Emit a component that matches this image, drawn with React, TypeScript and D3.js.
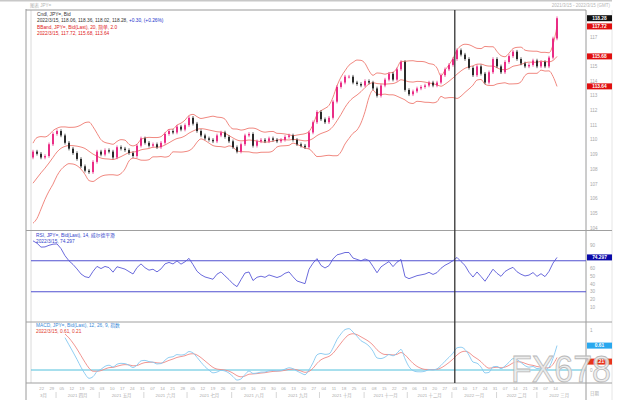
import React from 'react';
import * as d3 from 'd3';

// ---------- data ----------
const warmupCloses = [105.0, 105.5, 105.3, 105.7, 106.2, 106.6, 106.9, 107.8, 108.5, 108.8];
const closes = [
  109.2, 109.05, 108.8, 108.9, 109.7, 110.4, 110.6, 110.3, 109.8, 109.4,
  109.1, 108.7, 108.2, 107.9, 107.8, 108.5, 109.2, 109.0, 109.3, 109.2,
  108.8, 109.5, 109.4, 109.3, 109.1, 108.9, 109.6, 110.1, 109.8, 109.6,
  109.7, 109.5, 109.8, 110.4, 110.6, 110.5, 110.9, 110.7, 111.0, 111.5,
  111.1, 110.6, 110.3, 110.1, 110.0, 109.9, 110.3, 110.5, 110.2, 109.9,
  109.5, 109.2, 109.7, 110.3, 110.4, 109.6, 109.9, 110.0, 109.9, 110.1,
  110.0, 109.9, 110.0, 110.2, 110.3, 110.0, 109.7, 109.6, 109.5, 110.5,
  111.2, 111.9, 111.4, 111.2, 111.5, 112.6, 113.6, 113.9, 114.3, 114.3,
  113.9, 113.8, 113.7, 114.0, 113.9, 113.5, 113.0, 113.7, 114.1, 114.5,
  114.1, 114.8, 115.3, 113.4, 113.1, 113.3, 113.5, 113.6, 113.7, 113.9,
  113.7, 113.9, 114.4, 114.8, 115.1, 115.5, 116.1, 115.8, 115.5, 114.9,
  114.4, 115.0, 114.5, 113.9, 114.6, 115.5, 115.0, 114.6, 115.3, 115.7,
  116.0, 115.5, 115.2, 115.0, 115.1, 115.4, 115.0, 115.3, 115.0, 115.6,
  116.9, 118.28,
];
const priceTicks = [104, 105, 106, 107, 108, 109, 110, 111, 112, 113, 114, 115, 116, 117];
const rsiTicks = [10, 20, 30, 40, 50, 60, 70, 80, 90];
const rsiLevels = [70, 30];
const macdTicks = [0, 0.5, 1];
const monthStarts = ['2021-03-01', '2021-04-01', '2021-05-01', '2021-06-01', '2021-07-01', '2021-08-01', '2021-09-01',
  '2021-10-01', '2021-11-01', '2021-12-01', '2022-01-01', '2022-02-01', '2022-03-01', '2022-04-01'];
const monthLabels = ['3月', '2021 四月', '2021 五月', '2021 六月', '2021 七月', '2021 八月', '2021 九月',
  '2021 十月', '2021 十一月', '2021 十二月', '2022 一月', '2022 二月', '2022 三月'];
const lastClose = 118.28;
const bbLast = [117.72, 115.68, 113.64];
const rsiLast = 74.297;
const macdLast = [0.61, 0.21];

const FONT = "'Liberation Sans', Arial, 'Noto Sans CJK SC', sans-serif";

export default function App() {
  const L = 31, R = 586;
  const all = [...warmupCloses, ...closes];
  const off = warmupCloses.length;
  const n = closes.length;
  const x = d3.scaleLinear().domain([0, n - 1]).range([33, 557]);
  const t = d3.scaleTime().domain([new Date(2021, 2, 16), new Date(2022, 2, 15)]).range([33, 557]);
  const yP = d3.scaleLinear().domain([104, 117]).range([228, 37]);
  const yR = d3.scaleLinear().domain([0, 100]).range([315, 237.5]);
  const yM = d3.scaleLinear().domain([0, 1]).range([370, 330]);

  // Bollinger (20 days ~ 10 two-day bars)
  const bb = closes.map((_, i) => {
    const w = all.slice(off + i - 9, off + i + 1);
    const m = d3.mean(w) as number;
    const sd = Math.sqrt(d3.mean(w, (v) => (v - m) ** 2) as number);
    return { i, m, u: m + 2 * sd, l: m - 2 * sd };
  });

  // RSI (Wilder)
  const p = 11;
  const rsiAll: number[] = [];
  let ag = 0, al = 0;
  for (let k = 1; k < all.length; k++) {
    const d = all[k] - all[k - 1];
    const g = Math.max(d, 0), lo = Math.max(-d, 0);
    if (k <= p) { ag += g / p; al += lo / p; }
    else { ag = (ag * (p - 1) + g) / p; al = (al * (p - 1) + lo) / p; }
    rsiAll[k] = al === 0 ? 100 : 100 - 100 / (1 + ag / al);
  }
  const rsi = closes.map((_, i) => ({ i, v: rsiAll[off + i] }));

  // MACD
  const ema = (arr: number[], nn: number) => {
    const a = 2 / (nn + 1);
    const out: number[] = [];
    arr.forEach((v, k) => out.push(k === 0 ? v : out[k - 1] + a * (v - out[k - 1])));
    return out;
  };
  const e1 = ema(all, 6), e2 = ema(all, 13);
  const macdAll = all.map((_, k) => e1[k] - e2[k]);
  const sigAll = ema(macdAll, 4.5);
  const macd = closes.map((_, i) => ({ i, m: macdAll[off + i], s: sigAll[off + i] })).filter((d) => d.i >= 8);

  const bbLine = (key: 'm' | 'u' | 'l') => d3.line<any>().x((d) => x(d.i)).y((d) => yP(d[key])).curve(d3.curveMonotoneX)(bb) as string;
  const rsiPath = d3.line<any>().x((d) => x(d.i)).y((d) => yR(d.v))(rsi) as string;
  const macdPath = d3.line<any>().x((d) => x(d.i)).y((d) => yM(d.m)).curve(d3.curveMonotoneX)(macd) as string;
  const sigPath = d3.line<any>().x((d) => x(d.i)).y((d) => yM(d.s)).curve(d3.curveMonotoneX)(macd) as string;

  const UP = '#e8207e', DOWN = '#1c1c1c', BB = '#ee7a72';
  const weeks = d3.timeMonday.range(new Date(2021, 2, 20), new Date(2022, 2, 16));
  const fmtDay = d3.timeFormat('%d');
  const months = monthStarts.map((s) => new Date(s + 'T00:00:00'));
  const yearX = t(new Date(2022, 0, 3));

  const rightLabel = (y: number, text: string, bg: string, fg = '#fff', key?: string) => (
    <g key={key || text}>
      <rect x={587} y={y - 3} width={25} height={6} fill={bg} />
      <text x={599.5} y={y + 1.8} fontSize={4.8} fill={fg} textAnchor="middle" fontWeight="bold">{text}</text>
    </g>
  );
  const bbLabelYs = bbLast.map((v) => yP(v));

  return (
    <div style={{ position: 'absolute', left: 0, top: 0 }}>
      <svg width={640} height={400} style={{ display: 'block', fontFamily: FONT }}>
        <rect width={640} height={400} fill="#fff" />
        {/* top bar */}
        <rect x={0} y={0} width={612} height={1.5} fill="#c8c8c8" />
        <text x={30} y={6.5} fontSize={4.5} fill="#b5b5b5">图表 JPY=</text>
        <text x={610} y={6.5} fontSize={4.5} fill="#b5b5b5" textAnchor="end">2021/3/15 - 2022/3/15 (GMT)</text>

        {/* frame */}
        <line x1={26} x2={26} y1={9} y2={400} stroke="#9a9a9a" strokeWidth={1} />
        <line x1={L} x2={L} y1={10} y2={383} stroke="#d0d0d0" strokeWidth={0.8} />
        <line x1={26} x2={R} y1={10} y2={10} stroke="#9a9a9a" strokeWidth={1} />
        <line x1={R} x2={R} y1={10} y2={400} stroke="#9a9a9a" strokeWidth={1} />
        <line x1={612} x2={612} y1={10} y2={400} stroke="#e0e0e0" strokeWidth={0.8} />
        {[230.5, 322, 383].map((y) => (
          <line key={y} x1={26} x2={612} y1={y} y2={y} stroke="#a0a0a0" strokeWidth={1} />
        ))}

        {/* main panel */}
        <path d={bbLine('u')} fill="none" stroke={BB} strokeWidth={0.9} />
        <path d={bbLine('m')} fill="none" stroke={BB} strokeWidth={0.9} />
        <path d={bbLine('l')} fill="none" stroke={BB} strokeWidth={0.9} />
        {closes.map((c, i) => {
          const o = i === 0 ? warmupCloses[warmupCloses.length - 1] : closes[i - 1];
          const up = c >= o;
          const col = up ? UP : DOWN;
          const hi = Math.max(o, c) + 0.12, lo = Math.min(o, c) - 0.12;
          const top = yP(Math.max(o, c)), bot = yP(Math.min(o, c));
          return (
            <g key={i}>
              <line x1={x(i)} x2={x(i)} y1={yP(hi)} y2={yP(lo)} stroke={col} strokeWidth={0.7} />
              <rect x={x(i) - 0.9} y={top} width={1.8} height={Math.max(bot - top, 0.8)} fill={col} />
            </g>
          );
        })}
        <g fontSize={4.8}>
          <text x={37} y={15.5} fill="#333">Cndl, JPY=, Bid</text>
          <text x={37} y={22} fill="#333">2022/3/15, 118.06, 118.36, 118.02, 118.28, <tspan fill="#2233cc">+0.30, (+0.26%)</tspan></text>
          <text x={37} y={28.5} fill="#e02020">BBand, JPY=, Bid(Last), 20, 简单, 2.0</text>
          <text x={37} y={35} fill="#e02020">2022/3/15, 117.72, 115.68, 113.64</text>
        </g>
        {priceTicks.filter((v) => bbLabelYs.every((ly) => Math.abs(ly - yP(v)) > 5)).map((v) => (
          <text key={v} x={590} y={yP(v) + 1.6} fontSize={4.6} fill="#a8a8a8">{v}</text>
        ))}
        {rightLabel(yP(lastClose), lastClose.toFixed(2), '#111')}
        {bbLast.map((v, k) => rightLabel(bbLabelYs[k], v.toFixed(2), '#e01010', '#fff', 'bb' + k))}

        {/* RSI panel */}
        {rsiLevels.map((v) => (
          <line key={v} x1={L} x2={R} y1={yR(v)} y2={yR(v)} stroke="#5050d0" strokeWidth={1} />
        ))}
        <path d={rsiPath} fill="none" stroke="#5a5ad8" strokeWidth={0.9} />
        <g fontSize={4.8} fill="#3344cc">
          <text x={36} y={237}>RSI, JPY=, Bid(Last), 14, 威尔德平滑</text>
          <text x={36} y={243}>2022/3/15, 74.297</text>
        </g>
        {rsiTicks.filter((v) => Math.abs(yR(v) - yR(rsiLast)) > 5).map((v) => (
          <text key={v} x={590} y={yR(v) + 1.6} fontSize={4.6} fill="#a8a8a8">{v}</text>
        ))}
        {rightLabel(yR(rsiLast), rsiLast.toFixed(3), '#0a0aa8')}

        {/* MACD panel */}
        <line x1={L} x2={R} y1={yM(0)} y2={yM(0)} stroke="#50c0dc" strokeWidth={1} />
        <path d={sigPath} fill="none" stroke="#ef8a86" strokeWidth={0.9} />
        <path d={macdPath} fill="none" stroke="#86c8f0" strokeWidth={0.9} />
        <g fontSize={4.8}>
          <text x={36} y={327} fill="#3a8ad8">MACD, JPY=, Bid(Last), 12, 26, 9, 指数</text>
          <text x={36} y={333} fill="#e03a30">2022/3/15, 0.61, 0.21</text>
        </g>
        {macdTicks.filter((v) => macdLast.every((m) => Math.abs(yM(m) - yM(v)) > 5)).map((v) => (
          <text key={v} x={590} y={yM(v) + 1.6} fontSize={4.6} fill="#a8a8a8">{v}</text>
        ))}
        {rightLabel(yM(macdLast[0]), macdLast[0].toFixed(2), '#2aa8ee')}
        {rightLabel(yM(macdLast[1]), macdLast[1].toFixed(2), '#e8341c')}

        {/* year divider */}
        <line x1={yearX} x2={yearX} y1={10} y2={383} stroke="#333" strokeWidth={1.3} />

        {/* x axis */}
        {weeks.map((d, k) => (
          <text key={k} x={t(d)} y={390} fontSize={4.2} fill="#aaa" textAnchor="middle">{fmtDay(d)}</text>
        ))}
        {months.slice(0, -1).map((d, k) => {
          const a = Math.max(t(d), L);
          const b = Math.min(t(months[k + 1]), R);
          return (
            <g key={k}>
              {k > 0 && <line x1={t(d)} x2={t(d)} y1={392} y2={398} stroke="#bbb" strokeWidth={0.6} />}
              <text x={(a + b) / 2} y={397} fontSize={4.4} fill="#aaa" textAnchor="middle">{monthLabels[k]}</text>
            </g>
          );
        })}
        <text x={590} y={395} fontSize={4.4} fill="#aaa">日期</text>

        {/* watermark */}
        <text x={511} y={382} fontSize={36} textLength={100} lengthAdjust="spacingAndGlyphs"
          fill="#eaeaea" fillOpacity={0.85} stroke="#b8b8b8" strokeWidth={0.8} fontFamily="'Liberation Sans', Arial, sans-serif">FX678</text>
      </svg>
    </div>
  );
}
